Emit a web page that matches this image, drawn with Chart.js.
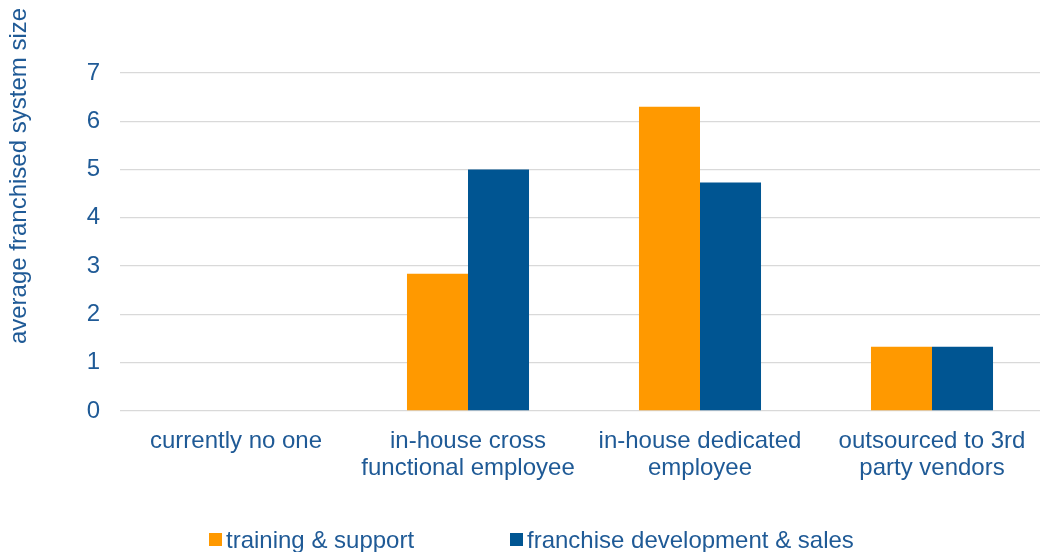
<!DOCTYPE html>
<html>
<head>
<meta charset="utf-8">
<script src="https://cdn.jsdelivr.net/npm/chart.js@4/dist/chart.umd.min.js"></script>
<style>
  html, body { margin: 0; padding: 0; background: #fff; overflow: hidden; }
  #wrap { width: 1048px; height: 552px; }
</style>
</head>
<body>
<div id="wrap"><canvas id="chartgraph" width="1048" height="552"></canvas></div>
<script>
// categories + series
var categories = [
  ['currently no one'],
  ['in-house cross', 'functional employee'],
  ['in-house dedicated', 'employee'],
  ['outsourced to 3rd', 'party vendors']
];
var seriesNames = ['training & support', 'franchise development & sales'];
var trainingSupport = [0, 2.84, 6.3, 1.33];
var franchiseDev = [0, 5.0, 4.73, 1.33];
var yTicks = [0, 1, 2, 3, 4, 5, 6, 7];
var yTitle = 'average franchised system size';

var textColor = '#1F5A96';
var colors = ['#FF9900', '#005592'];
var fontFam = '"Liberation Sans", Arial, sans-serif';

// y title + legend drawn by hand so they sit where the original has them
var extras = {
  id: 'extras',
  afterDraw: function(chart) {
    var c = chart.ctx;
    c.save();
    c.fillStyle = textColor;
    c.font = '24px ' + fontFam;
    c.textAlign = 'center';
    c.textBaseline = 'middle';
    c.translate(19, 176);
    c.rotate(-Math.PI / 2);
    c.fillText(yTitle, 0, 0);
    c.restore();

    c.save();
    c.font = '24px ' + fontFam;
    c.textBaseline = 'middle';
    var xs = [209, 510];
    for (var i = 0; i < seriesNames.length; i++) {
      c.fillStyle = colors[i];
      c.fillRect(xs[i], 533, 13, 13);
      c.fillStyle = textColor;
      c.fillText(seriesNames[i], xs[i] + 17, 541);
    }
    c.restore();
  }
};

var ctx = document.getElementById('chartgraph').getContext('2d');
var chart = new Chart(ctx, {
  type: 'bar',
  data: {
    labels: categories,
    datasets: [{
      label: seriesNames[0],
      data: trainingSupport,
      backgroundColor: colors[0]
    }, {
      label: seriesNames[1],
      data: franchiseDev,
      backgroundColor: colors[1]
    }]
  },
  options: {
    responsive: false,
    animation: false,
    layout: { padding: { top: 73, right: 0, bottom: 0, left: 0 } },
    plugins: {
      legend: { display: false },
      tooltip: { enabled: false }
    },
    datasets: {
      bar: { categoryPercentage: 0.526, barPercentage: 1.0 }
    },
    scales: {
      x: {
        grid: { display: false },
        border: { display: false },
        ticks: {
          color: textColor,
          font: { family: fontFam, size: 24, lineHeight: 1.125 },
          padding: 9,
          maxRotation: 0,
          autoSkip: false
        },
        afterFit: function(axis) { axis.height = 141; }
      },
      y: {
        min: 0,
        max: 7,
        afterBuildTicks: function(axis) {
          axis.ticks = yTicks.map(function(v) { return { value: v }; });
        },
        grid: { color: '#D9D9D9', lineWidth: 1.3, drawTicks: false },
        border: { display: false },
        ticks: {
          color: textColor,
          font: { family: fontFam, size: 24 },
          padding: 20
        },
        afterFit: function(axis) { axis.width = 120; }
      }
    }
  },
  plugins: [extras]
});
</script>
</body>
</html>
